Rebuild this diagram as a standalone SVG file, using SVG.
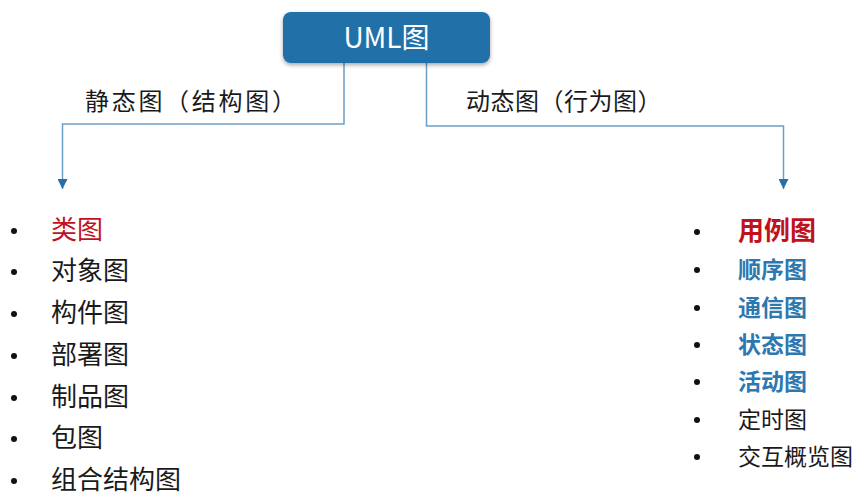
<svg xmlns="http://www.w3.org/2000/svg" width="865" height="499" viewBox="0 0 865 499">
<defs>
<style>
.t{font-family:"Noto Sans CJK SC","Liberation Sans",sans-serif;fill:#1a1a1a}
.l{font-size:26px}
.r{font-size:23px}
.red{fill:#c0121c}
.blue{fill:#2e78b0;font-weight:bold}
.b{fill:#111}
.c{fill:none;stroke:#6c9fc6;stroke-width:1.5}
</style>
<marker id="ah" viewBox="0 0 10 10" refX="10" refY="5" markerWidth="10" markerHeight="10" markerUnits="userSpaceOnUse" orient="auto">
<path d="M0,0 L10,5 L0,10 Z" fill="#2a6ea6"/>
</marker>
<filter id="sh" x="-10%" y="-20%" width="120%" height="150%"><feDropShadow dx="0" dy="2" stdDeviation="2" flood-opacity="0.35"/></filter>
</defs>
<rect width="865" height="499" fill="#fff"/>
<g id="connectors">
<path class="c" d="M344,63 V124 H62.5 V189" marker-end="url(#ah)"/>
<path class="c" d="M426.5,63 V126 H783.5 V189" marker-end="url(#ah)"/>
</g>
<g id="root">
<rect x="283" y="12" width="207" height="51" rx="8" fill="#2170a8" filter="url(#sh)"/>
<text x="386.5" y="48" text-anchor="middle" class="t" style="fill:#fff;font-size:28px">UML图</text>
</g>
<g id="label-static"><text x="85" y="110" class="t" style="font-size:24px;letter-spacing:2.7px">静态图（结构图）</text></g>
<g id="label-dynamic"><text x="466" y="110" class="t" style="font-size:24px;letter-spacing:0.5px">动态图（行为图）</text></g>
<g id="static-list">
<circle cx="14" cy="231" r="3" class="b"/><text x="51" y="239" class="t l red">类图</text>
<circle cx="14" cy="272" r="3" class="b"/><text x="51" y="280" class="t l">对象图</text>
<circle cx="14" cy="314" r="3" class="b"/><text x="51" y="322" class="t l">构件图</text>
<circle cx="14" cy="356" r="3" class="b"/><text x="51" y="364" class="t l">部署图</text>
<circle cx="14" cy="398" r="3" class="b"/><text x="51" y="406" class="t l">制品图</text>
<circle cx="14" cy="439" r="3" class="b"/><text x="51" y="447" class="t l">包图</text>
<circle cx="14" cy="481" r="3" class="b"/><text x="51" y="489" class="t l">组合结构图</text>
</g>
<g id="dynamic-list">
<circle cx="697" cy="232" r="3" class="b"/><text x="738" y="240" class="t red" style="font-size:26px;font-weight:bold">用例图</text>
<circle cx="697" cy="270" r="3" class="b"/><text x="738" y="278" class="t r blue">顺序图</text>
<circle cx="697" cy="308" r="3" class="b"/><text x="738" y="316" class="t r blue">通信图</text>
<circle cx="697" cy="345" r="3" class="b"/><text x="738" y="353" class="t r blue">状态图</text>
<circle cx="697" cy="382" r="3" class="b"/><text x="738" y="390" class="t r blue">活动图</text>
<circle cx="697" cy="420" r="3" class="b"/><text x="738" y="428" class="t r">定时图</text>
<circle cx="697" cy="457" r="3" class="b"/><text x="738" y="465" class="t r">交互概览图</text>
</g>
</svg>
